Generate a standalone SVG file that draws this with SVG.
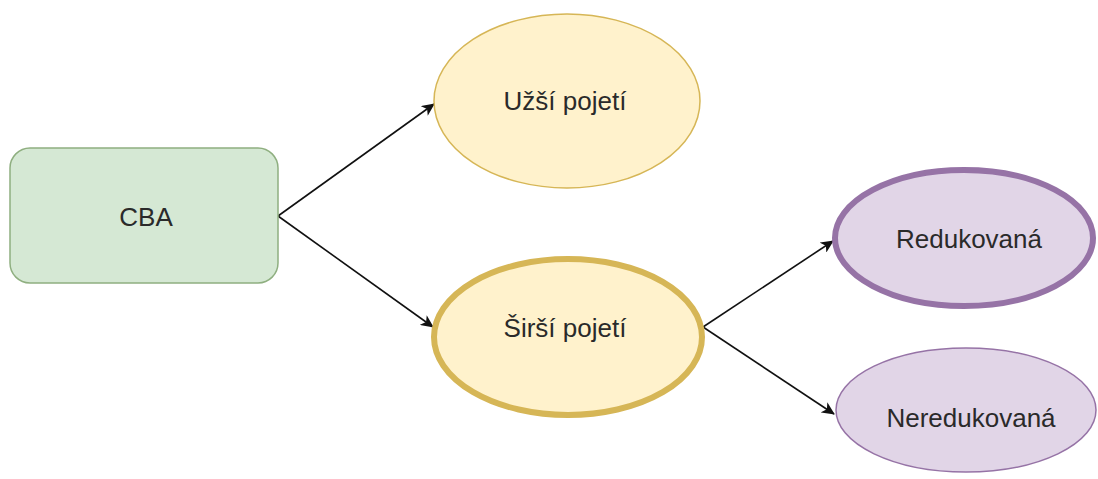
<svg xmlns="http://www.w3.org/2000/svg" width="1098" height="479" viewBox="0 0 1098 479">
<style>
text{font-family:"Liberation Sans",Arial,sans-serif;font-size:26px;fill:#2a2a2a;text-anchor:middle}
.edge{stroke:#111;stroke-width:1.6;fill:none;marker-end:url(#ah)}
</style>
<defs>
<marker id="ah" markerWidth="14" markerHeight="12" refX="12" refY="6" orient="auto" markerUnits="userSpaceOnUse">
<path d="M0,0 L13,6 L0,12 L3.5,6 Z" fill="#111"/>
</marker>
</defs>
<rect width="1098" height="479" fill="#fff"/>
<g id="connectors">
<line class="edge" x1="278" y1="216" x2="434" y2="104"/>
<line class="edge" x1="278" y1="216" x2="433" y2="327"/>
<line class="edge" x1="703" y1="327" x2="833" y2="241"/>
<line class="edge" x1="703" y1="327" x2="834" y2="414"/>
</g>
<g id="cba">
<rect x="10" y="148" width="268" height="135" rx="20" fill="#d5e8d4" stroke="#8faf80" stroke-width="1.5"/>
<text x="146" y="226">CBA</text>
</g>
<g id="uzsi">
<ellipse cx="567" cy="101" rx="133" ry="87" fill="#fff2cc" stroke="#d6b656" stroke-width="1.5"/>
<text x="565" y="110">Užší pojetí</text>
</g>
<g id="sirsi">
<ellipse cx="568" cy="337" rx="134" ry="78" fill="#fff2cc" stroke="#d6b656" stroke-width="6"/>
<text x="565" y="337">Širší pojetí</text>
</g>
<g id="redukovana">
<ellipse cx="964" cy="238" rx="129" ry="68" fill="#e1d5e7" stroke="#9673a6" stroke-width="6"/>
<text x="969" y="248">Redukovaná</text>
</g>
<g id="neredukovana">
<ellipse cx="966" cy="410" rx="130" ry="62" fill="#e1d5e7" stroke="#9673a6" stroke-width="1.5"/>
<text x="971" y="427">Neredukovaná</text>
</g>
</svg>
